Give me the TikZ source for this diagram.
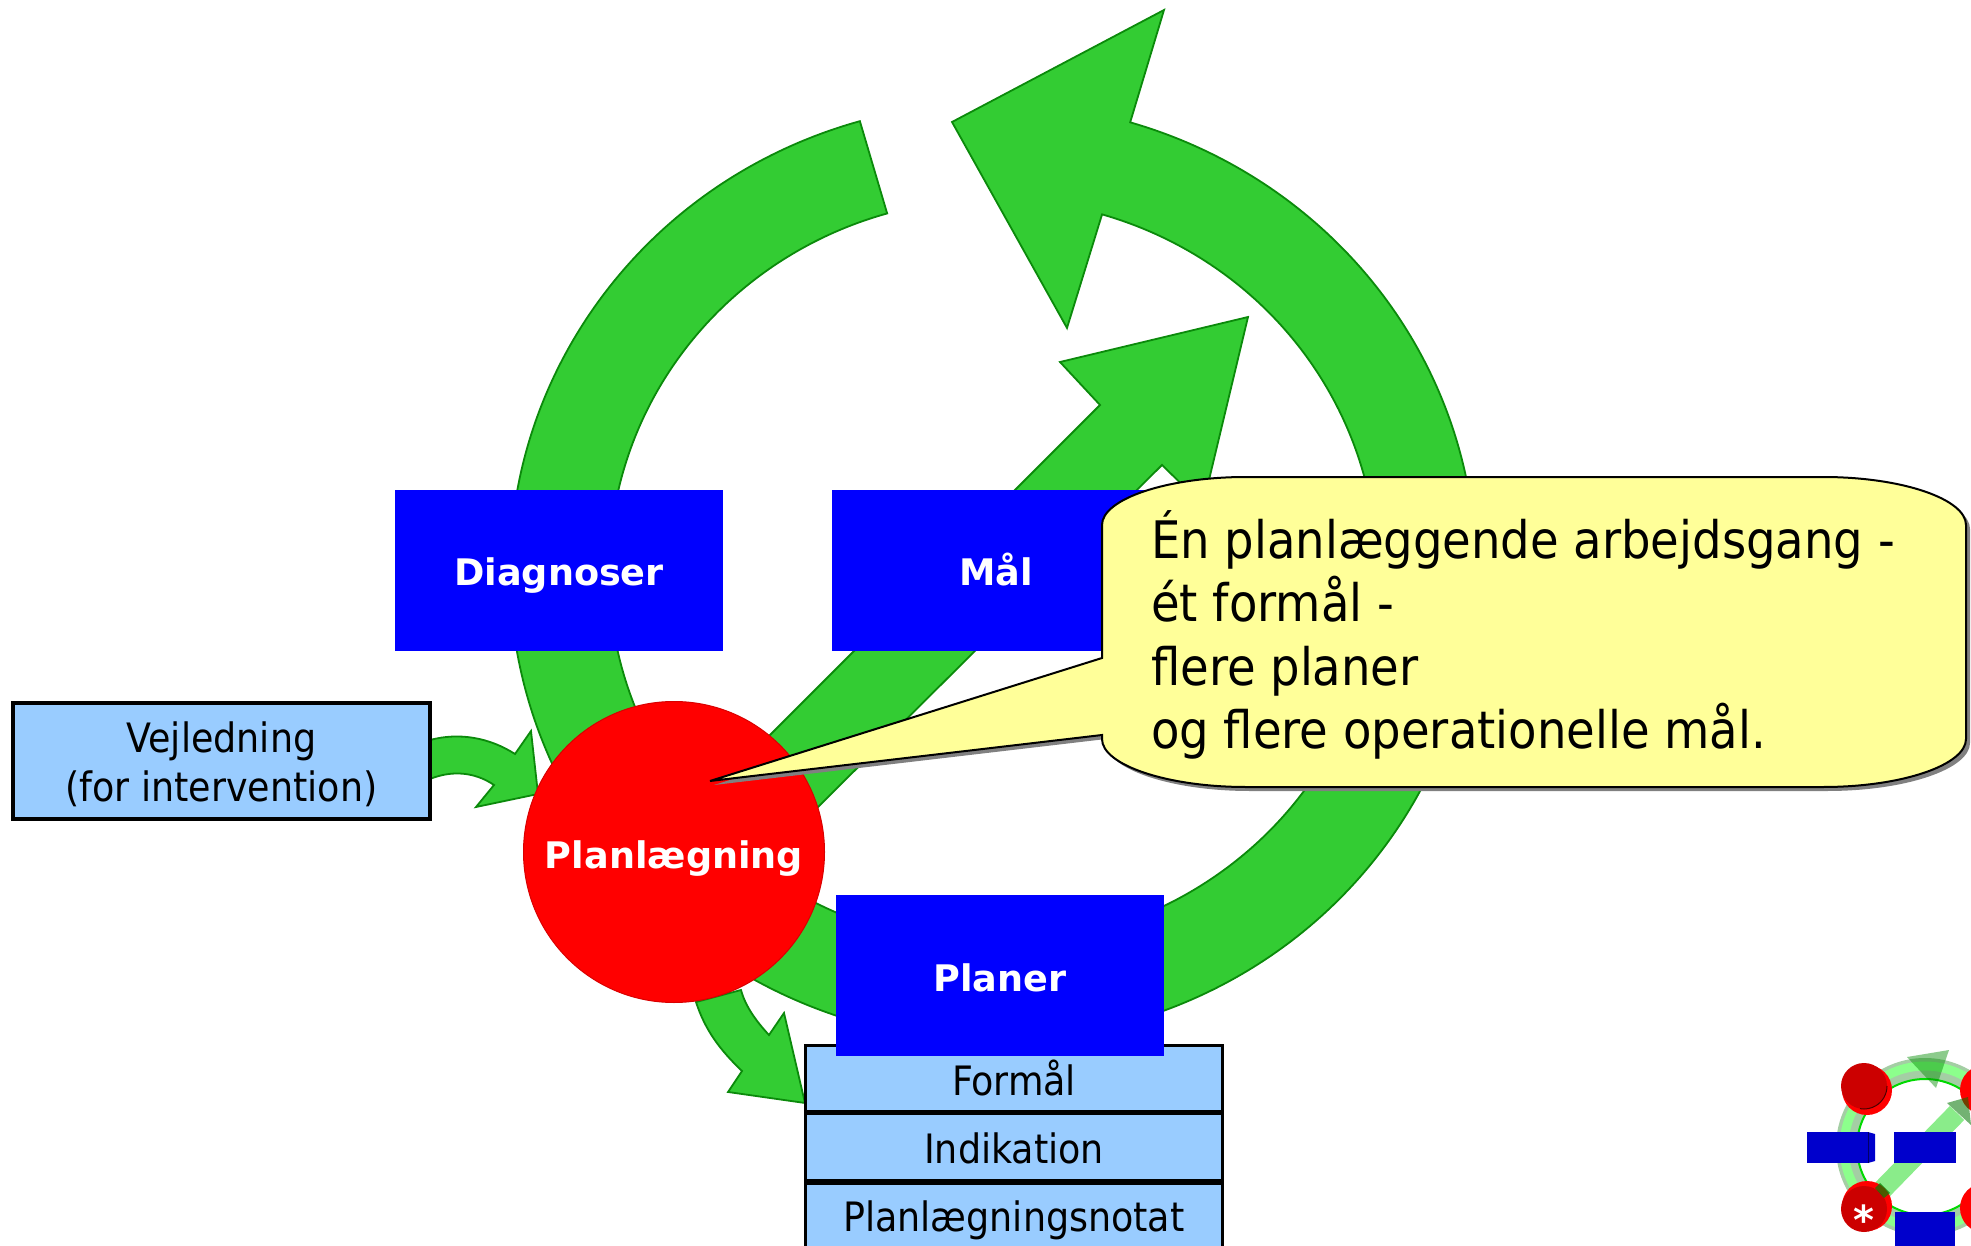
\documentclass[tikz,border=0pt]{standalone}
\usepackage{fontspec}
\setmainfont{DejaVu Sans Condensed}
\newfontfamily\boldlabel{DejaVu Sans Bold}
\definecolor{ringgreen}{HTML}{33CC33}
\definecolor{ringedge}{HTML}{0B8A0B}
\definecolor{lightblue}{HTML}{99CCFF}
\definecolor{callout}{HTML}{FFFF99}
\tikzset{
  blockarrow/.style={fill=ringgreen,draw=ringedge,line width=1.8pt,line join=miter},
  bluebox/.style={fill=blue,draw=none,minimum width=328pt,minimum height=161pt,inner sep=0pt,text=white,text height=37pt,text depth=6pt,font=\boldlabel\fontsize{36.6}{40}\selectfont},
  notebox/.style={fill=lightblue,draw=black,line width=3.2pt,inner sep=0pt,align=center,font=\fontsize{40.5}{49}\selectfont},
  rowtext/.style={font=\fontsize{40.5}{49}\selectfont,inner sep=0pt,align=center},
  logoblue/.style={fill=blue!80!black,draw=none,inner sep=0pt},
}
\begin{document}
\begin{tikzpicture}[x=1pt,y=1pt,yscale=-1]
\clip (0,0) rectangle (1971,1246);
% big ring
\begin{scope}[shift={(993,572)}]
\draw[blockarrow] (254:483 and 469) arc[start angle=254,end angle=-73.5,x radius=483,y radius=469]
  coordinate (ringout) -- (171,-562) -- (-41,-450) -- (74,-244) -- (-73.5:384 and 373)
  arc[start angle=-73.5,end angle=254,x radius=384,y radius=373] -- cycle;
\end{scope}
% diagonal arrow
\draw[blockarrow] (767,738) -- (1100,405) -- (1060,362) -- (1248,317) -- (1203,505) -- (1162,465) -- (817,808) -- cycle;
% guidance arrow
\draw[blockarrow] (430,740) .. controls (460,732) and (490,738) .. (515,754) -- (531,731) -- (538,794) -- (476,807) -- (494,785) .. controls (475,772) and (452,770) .. (430,779) -- cycle;
% lower arrow
\draw[blockarrow] (696,1002) .. controls (705,1030) and (720,1050) .. (742,1071) -- (728,1092) -- (805,1103) -- (784,1013) -- (769,1035) .. controls (755,1020) and (745,1005) .. (741,990) -- cycle;
% boxes
\node[notebox,minimum width=417pt,minimum height=116pt] (vej) at (221.5,761) {};
\node[rowtext] (vejtext) at (221.5,764) {Vejledning\\(for intervention)};
\node[notebox,minimum width=417pt,minimum height=66pt] (formaal) at (1014,1078.6) {};
\node[notebox,minimum width=417pt,minimum height=67.2pt] (indik) at (1014,1147) {};
\node[notebox,minimum width=417pt,minimum height=117pt] (notat) at (1014,1242) {};
\node[rowtext] (t1) at (1014,1078) {Formål};
\node[rowtext] (t2) at (1014,1148) {Indikation};
\node[rowtext] (t3) at (1014,1220) {Planlægningsnotat};
\node[bluebox] (diag) at (559,570) {Diagnoser};
\node[bluebox] (maal) at (996,570) {Mål};
\node[bluebox] (planer) at (1000,975.5) {Planer};
\node[circle,fill=red,draw=red!85!black,line width=1pt,minimum size=301pt,inner sep=0pt,text=white,text height=38pt,text depth=6pt,font=\boldlabel\fontsize{36.6}{40}\selectfont] (plan) at (674,852) {Planlægning};
% callout shadow and body
\def\calloutpath{(1246,477) -- (1823,477) .. controls (1902,477) and (1966,499) .. (1966,525) -- (1966,739) .. controls (1966,765) and (1902,787) .. (1823,787) -- (1246,787) .. controls (1167,787) and (1102,765) .. (1102,739) -- (1102,735) -- (710,781) -- (1102,658) -- (1102,525) .. controls (1102,499) and (1167,477) .. (1246,477) -- cycle}
\fill[black!50,shift={(4,4)}] \calloutpath;
\draw[fill=callout,draw=black,line width=2pt] \calloutpath;
\node[anchor=west,align=left,inner sep=0pt,font=\fontsize{51.7}{63.4}\selectfont] (note) at (1151,635) {Én planlæggende arbejdsgang -\\ét formål -\\flere planer\\og flere operationelle mål.};
% logo
\draw[line width=21pt,color=green!30!gray!55!white] (1925,1147) circle[radius=78.5];
\draw[line width=9pt,color=green!45!white] (1925,1147) circle[radius=81];
\draw[line width=2pt,color=green!85!black] (1925,1147) circle[radius=68];
\draw[line width=20pt,color=green!45!white!85!gray] (1880,1192) -- (1957,1113);
\fill[red] (1867,1090) circle[radius=25];
\fill[red!80!black] (1864,1086) circle[radius=23];
\draw[black!70!red,line width=1pt] (1887,1086) arc[start angle=0,end angle=100,radius=23];
\fill[red] (1867,1206) circle[radius=25];
\fill[red!80!black] (1864,1209) circle[radius=23];
\fill[green!50!black,opacity=.7] (1880,1183) -- (1890,1193) -- (1884,1198) -- (1875,1188) -- cycle;
\fill[red] (1985,1090) circle[radius=25];
\fill[red] (1985,1208) circle[radius=25];
\fill[green!55!black,opacity=.45] (1907,1057) -- (1949,1050) -- (1936,1088) -- cycle;
\fill[green!45!black,opacity=.55] (1947,1103) -- (1968,1097) -- (1971,1125) -- cycle;
\node[font=\boldlabel\fontsize{40}{40}\selectfont,text=white,inner sep=0pt,anchor=base] (star) at (1864,1234) {*};
\node[logoblue,minimum width=61pt,minimum height=31pt] (lg1) at (1837.5,1147.5) {};
\fill[blue!80!black] (1868,1132) -- (1875,1134) -- (1875,1161) -- (1868,1163) -- cycle;
\draw[black!60!blue,line width=1pt] (1868,1132) -- (1868,1163);
\node[logoblue,minimum width=62pt,minimum height=31pt] (lg2) at (1925,1147.5) {};
\node[logoblue,minimum width=60pt,minimum height=60pt] (lg3) at (1925,1242) {};
\end{tikzpicture}
\end{document}
